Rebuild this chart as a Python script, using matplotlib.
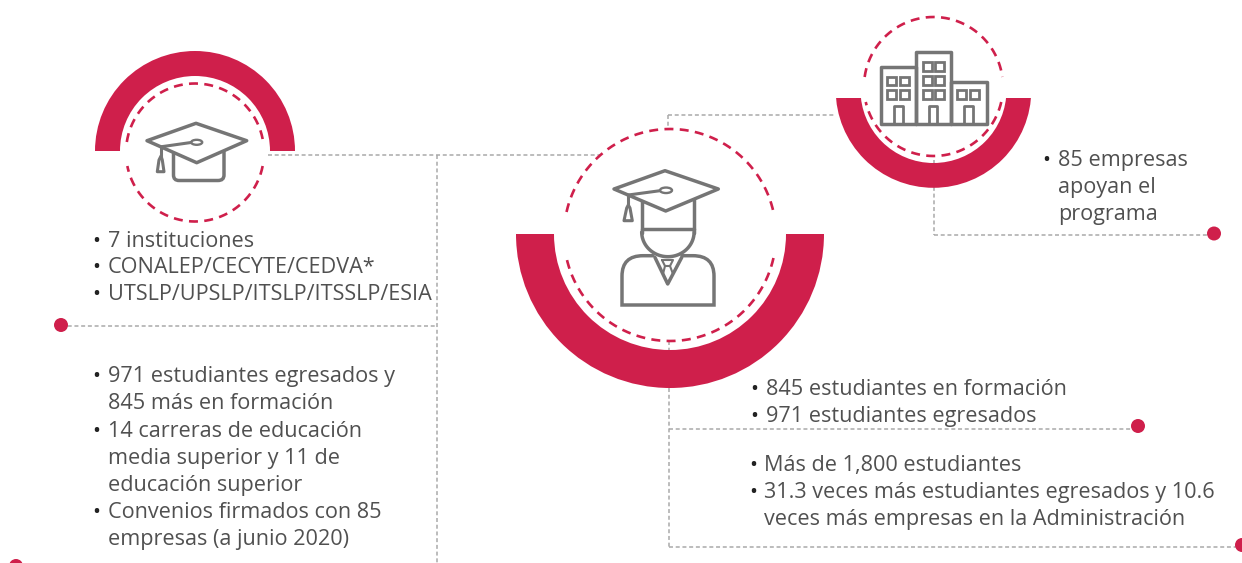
#!/bin/python3

"""
This script redraws the infographic about students, institutions and companies.
"""

import matplotlib
matplotlib.use("Agg")

import matplotlib.pyplot as plt
import numpy as np
from matplotlib.path import Path
from matplotlib.patches import Ellipse, PathPatch, Polygon, Rectangle, Wedge

RED = "#cf1f4b"
GRAY = "#757575"
LINE_GRAY = "#a9a9a9"
TEXT = "#505050"
FONT_SIZE = 15.6
ICON_LW = 2.5

SCHOOLS = ["7 instituciones", "CONALEP/CECYTE/CEDVA*", "UTSLP/UPSLP/ITSLP/ITSSLP/ESIA"]
SCHOOLS_Y = [247, 273, 300]
GRADS = [
    ("971 estudiantes egresados y", True),
    ("845 más en formación", False),
    ("14 carreras de educación", True),
    ("media superior y 11 de", False),
    ("educación superior", False),
    ("Convenios firmados con 85", True),
    ("empresas (a junio 2020)", False),
]
GRADS_Y = [382, 409, 437, 464, 491, 518, 545]
COMPANIES = [("85 empresas", True), ("apoyan el", False), ("programa", False)]
COMPANIES_Y = [166, 193, 220]
TRAINING = ["845 estudiantes en formación", "971 estudiantes egresados"]
TRAINING_Y = [395, 422]
TOTALS = [
    ("Más de 1,800 estudiantes", True),
    ("31.3 veces más estudiantes egresados y 10.6", True),
    ("veces más empresas en la Administración", False),
]
TOTALS_Y = [471, 498, 525]


def ring(ax, cx, cy, r_out, r_in, theta1, theta2, y_cut=None):
    """
    Draw a red half ring, cut flat at y_cut when the centre is above the cut.
    """
    patch = Wedge((cx, cy), r_out, theta1, theta2, width=r_out - r_in, facecolor=RED, edgecolor="none", zorder=2)
    ax.add_patch(patch)
    if y_cut is not None:
        patch.set_clip_path(Rectangle((0, y_cut), 1242, 563, transform=ax.transData))


def dashed_circle(ax, cx, cy, r, gap_top, gap_bottom):
    """
    Draw a dashed circle that leaves a gap on both sides between two heights.
    """
    a = np.arcsin((gap_top - cy) / r)
    b = np.arcsin((gap_bottom - cy) / r)
    for t1, t2 in [(-np.pi - a, a), (b, np.pi - b)]:
        t = np.linspace(t1, t2, 300)
        ax.plot(cx + r * np.cos(t), cy + r * np.sin(t), color=RED, lw=1.9, ls=(0, (3.4, 2.4)), zorder=3)


def gray_line(ax, xs, ys, lw=ICON_LW, closed=False):
    """
    Draw one stroke of an icon.
    """
    if closed:
        xs = list(xs) + [xs[0]]
        ys = list(ys) + [ys[0]]
    ax.plot(xs, ys, color=GRAY, lw=lw, solid_joinstyle="round", solid_capstyle="round", zorder=4)


def round_stroke(ax, steps):
    """
    Draw a stroke with rounded corners. A step of two points is a curve.
    """
    verts = [steps[0]]
    codes = [Path.MOVETO]
    for step in steps[1:]:
        if isinstance(step[0], tuple):
            verts += list(step)
            codes += [Path.CURVE3, Path.CURVE3]
        else:
            verts.append(step)
            codes.append(Path.LINETO)
    ax.add_patch(PathPatch(Path(verts, codes), facecolor="none", edgecolor=GRAY, lw=ICON_LW, capstyle="round", zorder=4))


def cap(ax, diamond, cord, button, tassel_top, tassel):
    """
    Draw a graduation cap from its diamond, cord, button and tassel.
    """
    ax.add_patch(Polygon(diamond, closed=True, facecolor="white", edgecolor=GRAY, lw=ICON_LW, joinstyle="round", zorder=5))
    ax.plot(*zip(*cord), color=GRAY, lw=2.2, zorder=6)
    ax.plot(*zip(*tassel_top), color=GRAY, lw=2.2, zorder=6)
    ax.add_patch(Ellipse(button[:2], button[2], button[3], facecolor="white", edgecolor=GRAY, lw=1.7, zorder=6))
    ax.add_patch(Polygon(tassel, closed=True, facecolor="white", edgecolor=GRAY, lw=2.2, joinstyle="round", zorder=6))


def draw_small_cap(ax):
    """
    The cap icon in the left circle.
    """
    round_stroke(ax, [(173.5, 153), (173.5, 175), ((173.5, 180.5), (179, 180.5)), (218, 180.5),
                      ((224, 180.5), (224, 175)), (224, 152)])
    cap(
        ax,
        [(147, 140.7), (196, 123.3), (246.7, 140.7), (196.7, 162.7)],
        [(161.5, 146.7), (191, 142.5)],
        (196.7, 142.3, 11, 5),
        [(161, 147), (161, 156)],
        [(157.3, 171.7), (164, 171.7), (162.3, 160), (161, 156), (159, 160)],
    )


def draw_student(ax):
    """
    The student icon in the central circle.
    """
    gray_line(ax, [641.7, 641.7], [200, 233])
    gray_line(ax, [694, 694], [200, 233])
    gray_line(ax, [641.7, 694], [229, 229])
    t = np.linspace(0, np.pi, 60)
    gray_line(ax, 667.9 + 26.2 * np.cos(t), 232 + 24.7 * np.sin(t))
    round_stroke(ax, [(653, 255.7), (643, 255.7), ((622, 255.7), (622, 276)), (622, 305), (714, 305),
                      (714, 276), ((714, 255.7), (693, 255.7)), (682, 255.7)])
    gray_line(ax, [655, 667.7, 681.7], [257.5, 284, 257.5])
    gray_line(ax, [662, 673, 670, 665], [260, 260, 266, 266], lw=1.5, closed=True)
    gray_line(ax, [665, 663], [266, 274], lw=1.5)
    gray_line(ax, [670, 673], [266, 274], lw=1.5)
    cap(
        ax,
        [(614, 189), (665, 170.7), (718.3, 189), (665.7, 211)],
        [(628.3, 195), (660, 190.7)],
        (666, 190.3, 12, 5.5),
        [(628.3, 195), (628.3, 205)],
        [(624, 220.7), (632.3, 220.7), (630, 208), (628.3, 205), (626.7, 208)],
    )


def draw_buildings(ax):
    """
    The buildings icon in the top right circle.
    """
    for x, y, w, h in [(880.7, 66.7, 35.3, 57.3), (916, 52.3, 35, 71.7), (951, 82.3, 35.7, 41.7)]:
        ax.add_patch(Rectangle((x, y), w, h, facecolor="none", edgecolor=GRAY, lw=ICON_LW, joinstyle="round", zorder=4))
    windows = [(x, y) for x in (887.3, 900) for y in (76.7, 90)]
    windows += [(x, y) for x in (922.7, 935.3) for y in (62.3, 76, 90)]
    windows += [(x, 90) for x in (957.3, 970)]
    for x, y in windows:
        ax.add_patch(Rectangle((x, y), 9, 8.5, facecolor="none", edgecolor=GRAY, lw=2, zorder=4))
    for x in (894, 928.7, 964):
        gray_line(ax, [x, x, x + 8.7, x + 8.7], [124, 105.7, 105.7, 124], lw=2)


def bullet_text(ax, rows, ys, x, bullet_x):
    """
    Write rows of text, with a bullet in front of the rows that start an item.
    """
    for (label, has_bullet), y in zip(rows, ys):
        ax.text(x, y, label, color=TEXT, fontsize=FONT_SIZE, va="baseline", ha="left", zorder=7)
        if has_bullet:
            ax.text(bullet_x, y, "•", color="#222222", fontsize=FONT_SIZE, va="baseline", ha="center", zorder=7)


def main():
    """
    The program entry point.
    """
    plt.rcParams["font.family"] = ["Open Sans", "DejaVu Sans"]
    fig = plt.figure(figsize=(12.42, 5.63), dpi=100)
    ax = fig.add_axes([0, 0, 1, 1])
    ax.set_xlim(0, 1242)
    ax.set_ylim(563, 0)
    ax.axis("off")

    # Connecting lines
    for xs, ys in [
        ([268, 600], [155, 155]),
        ([437, 437], [155, 563]),
        ([61, 437], [326, 326]),
        ([668, 836], [115, 115]),
        ([668, 668], [115, 129]),
        ([934, 934], [160, 235]),
        ([934, 1214], [235, 235]),
        ([669, 669], [341, 547]),
        ([669, 1138], [429, 429]),
        ([669, 1242], [547, 547]),
    ]:
        ax.plot(xs, ys, color=LINE_GRAY, lw=1.1, ls=(0, (2.6, 1.8)), zorder=1)
    for x, y in [(61, 325), (1214, 233.5), (1138, 426), (1242, 545), (16, 566)]:
        ax.add_patch(Ellipse((x, y), 14, 14, facecolor=RED, edgecolor="none", zorder=2))

    # Rings and circles
    ring(ax, 195, 151, 100, 75, 180, 360)
    ring(ax, 670, 234, 154, 116, 0, 180)
    ring(ax, 933.5, 90, 97.8, 73, 0, 180, y_cut=98)
    dashed_circle(ax, 195, 152.5, 69, 142, 166)
    dashed_circle(ax, 670, 235, 106, 212, 258)
    dashed_circle(ax, 933.5, 86.5, 69.5, 77, 102)

    draw_small_cap(ax)
    draw_student(ax)
    draw_buildings(ax)

    bullet_text(ax, [(s, True) for s in SCHOOLS], SCHOOLS_Y, 108, 96)
    bullet_text(ax, GRADS, GRADS_Y, 108, 96)
    bullet_text(ax, COMPANIES, COMPANIES_Y, 1058, 1046)
    bullet_text(ax, [(s, True) for s in TRAINING], TRAINING_Y, 766, 754)
    bullet_text(ax, TOTALS, TOTALS_Y, 764, 753)

    fig.savefig("out.png", dpi=100)


if __name__ == "__main__":
    main()
